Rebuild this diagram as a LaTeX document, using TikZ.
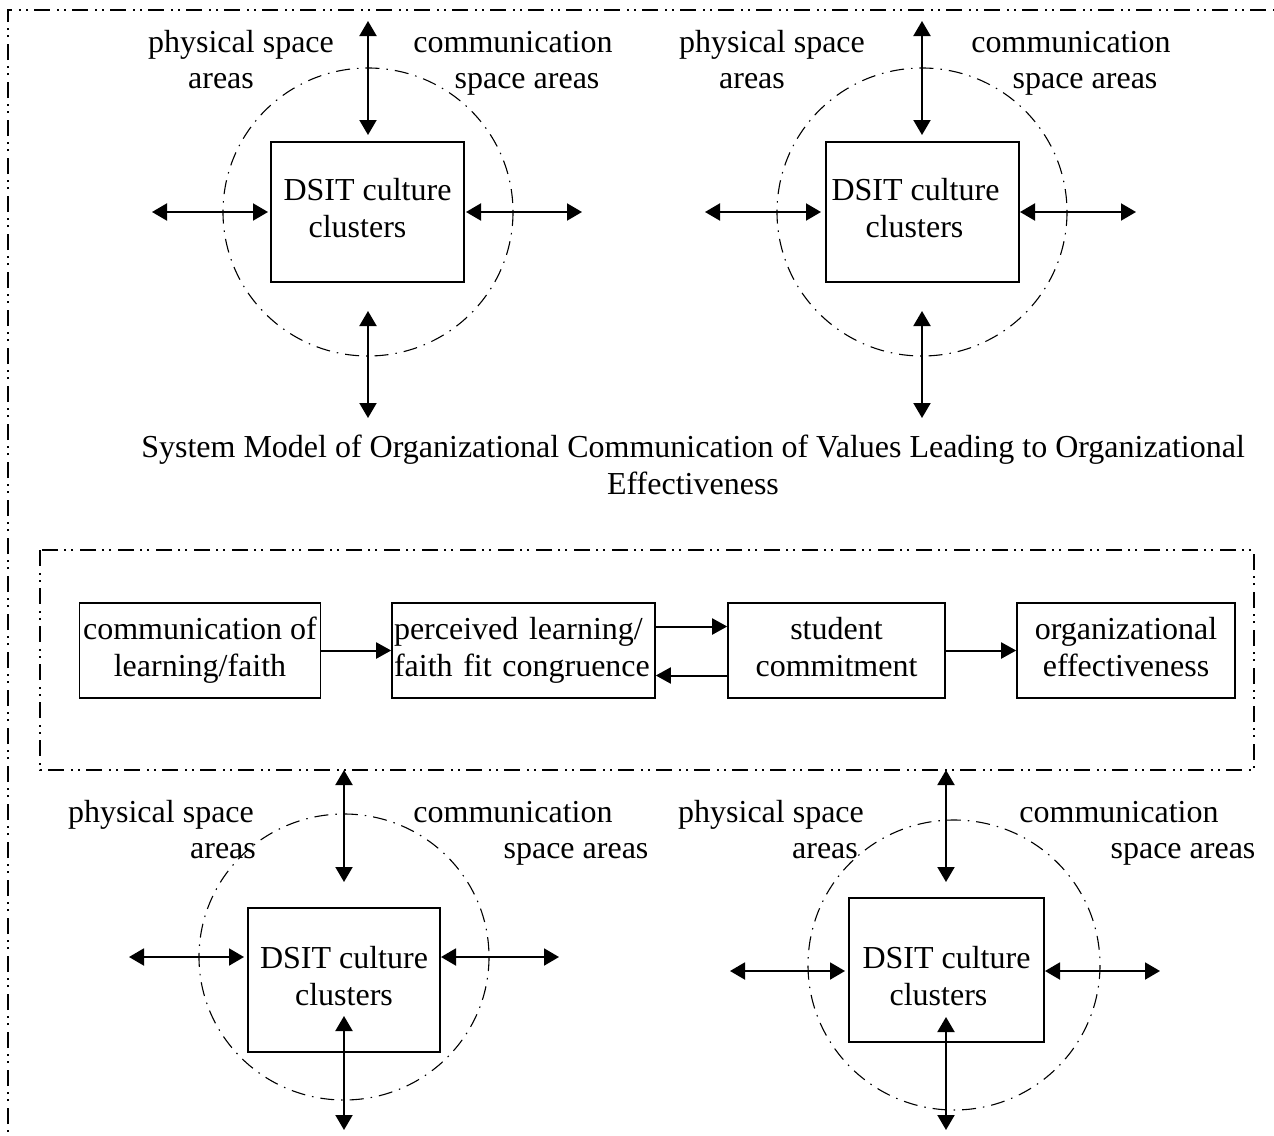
\documentclass[tikz,border=0pt]{standalone}
\usepackage{fontspec}
\setmainfont{Liberation Serif}
\usetikzlibrary{arrows.meta}
\tikzset{
  txt/.style={font=\fontsize{32}{37}\selectfont, inner sep=0pt},
  lbl/.style={txt, anchor=base},
  boxnode/.style={draw, line width=1.6pt, txt, align=center},
  dbl/.style={line width=2pt, {Triangle[length=15pt,width=17pt]}-{Triangle[length=15pt,width=17pt]}},
  one/.style={line width=2pt, -{Triangle[length=15pt,width=16pt]}},
  circ/.style={line width=1.1pt, dash pattern=on 14pt off 7pt on 1.5pt off 7pt},
  frame/.style={line width=1.5pt, dash pattern=on 16pt off 7pt on 2pt off 5pt on 2pt off 6pt}
}
\begin{document}
\begin{tikzpicture}[x=1pt,y=-1pt]
\useasboundingbox (0,0) rectangle (1274,1135);
\clip (0,0) rectangle (1274,1135);

% outer frame (runs off the page right and bottom)
\draw[frame] (8,1200) -- (8,10) -- (1320,10);

% ---------- top-left cluster ----------
\draw[circ] (368,212) ellipse [x radius=145, y radius=144];
\node[boxnode, minimum width=193pt, minimum height=140pt] (tl) at (367.5,212) {\strut DSIT culture\\\strut clusters\hspace*{20pt}};
\node[lbl] (tlp1) at (241,52) {physical space};
\node[lbl] (tlp2) at (221,88) {areas};
\node[lbl] (tlc1) at (513,52) {communication};
\node[lbl] (tlc2) at (527,88) {space areas};
\coordinate (tlN1) at (368,21);  \coordinate (tlN2) at (368,135);
\coordinate (tlS1) at (368,311); \coordinate (tlS2) at (368,418);
\coordinate (tlW1) at (152,212); \coordinate (tlW2) at (268,212);
\coordinate (tlE1) at (466,212); \coordinate (tlE2) at (582,212);
\draw[dbl] (tlN1) -- (tlN2);
\draw[dbl] (tlS1) -- (tlS2);
\draw[dbl] (tlW1) -- (tlW2);
\draw[dbl] (tlE1) -- (tlE2);

% ---------- top-right cluster ----------
\draw[circ] (922,212) ellipse [x radius=145, y radius=144];
\node[boxnode, minimum width=193pt, minimum height=140pt] (tr) at (922.5,212) {\strut DSIT culture\hspace*{14pt}\\\strut clusters\hspace*{16pt}};
\node[lbl] (trp1) at (772,52) {physical space};
\node[lbl] (trp2) at (752,88) {areas};
\node[lbl] (trc1) at (1071,52) {communication};
\node[lbl] (trc2) at (1085,88) {space areas};
\coordinate (trN1) at (922,21);  \coordinate (trN2) at (922,135);
\coordinate (trS1) at (922,311); \coordinate (trS2) at (922,418);
\coordinate (trW1) at (705,212); \coordinate (trW2) at (821,212);
\coordinate (trE1) at (1020,212); \coordinate (trE2) at (1136,212);
\draw[dbl] (trN1) -- (trN2);
\draw[dbl] (trS1) -- (trS2);
\draw[dbl] (trW1) -- (trW2);
\draw[dbl] (trE1) -- (trE2);

% ---------- title ----------
\node[lbl] (title1) at (693,457) {System Model of Organizational Communication of Values Leading to Organizational};
\node[lbl] (title2) at (693,494) {Effectiveness};

% ---------- middle frame and chain ----------
\draw[frame] (40,550) rectangle (1254,770);
\node[boxnode, minimum width=241pt, minimum height=95pt] (m1) at (200,650.5) {\strut communication of\\\strut learning/faith};
\node[draw, line width=1.6pt, txt, align=left, inner xsep=2pt, text width=259pt, minimum height=95pt] (m2) at (523.5,650.5) {\strut perceived learning/\\\strut faith fit congruence};
\node[boxnode, minimum width=217pt, minimum height=95pt] (m3) at (836.5,650.5) {\strut student\\\strut commitment};
\node[boxnode, minimum width=218pt, minimum height=95pt] (m4) at (1126,650.5) {\strut organizational\\\strut effectiveness};
\draw[one] (m1.east) -- (m2.west);
\draw[one] ([yshift=24pt]m2.east) -- ([yshift=24pt]m3.west);
\draw[one] ([yshift=-25pt]m3.west) -- ([yshift=-25pt]m2.east);
\draw[one] (m3.east) -- (m4.west);

% ---------- bottom-left cluster ----------
\draw[circ] (344,957) ellipse [x radius=145, y radius=143];
\node[boxnode, minimum width=192pt, minimum height=144pt] (bl) at (344,980) {\strut DSIT culture\\\strut clusters};
\node[lbl] (blp1) at (161,822) {physical space};
\node[lbl] (blp2) at (223,858) {areas};
\node[lbl] (blc1) at (513,822) {communication};
\node[lbl] (blc2) at (576,858) {space areas};
\coordinate (blN1) at (344,770);  \coordinate (blN2) at (344,882);
\coordinate (blS1) at (344,1016); \coordinate (blS2) at (344,1130);
\coordinate (blW1) at (129,957);  \coordinate (blW2) at (244,957);
\coordinate (blE1) at (441,957);  \coordinate (blE2) at (559,957);
\draw[dbl] (blN1) -- (blN2);
\draw[dbl] (blS1) -- (blS2);
\draw[dbl] (blW1) -- (blW2);
\draw[dbl] (blE1) -- (blE2);

% ---------- bottom-right cluster ----------
\draw[circ] (954,965) ellipse [x radius=146, y radius=145];
\node[boxnode, minimum width=195pt, minimum height=144pt] (br) at (946.5,970) {\rule{0pt}{46pt}DSIT culture\\\strut clusters\hspace*{16pt}};
\node[lbl] (brp1) at (771,822) {physical space};
\node[lbl] (brp2) at (825,858) {areas};
\node[lbl] (brc1) at (1119,822) {communication};
\node[lbl] (brc2) at (1183,858) {space areas};
\coordinate (brN1) at (946,770);  \coordinate (brN2) at (946,882);
\coordinate (brS1) at (946,1017); \coordinate (brS2) at (946,1130);
\coordinate (brW1) at (730,971);  \coordinate (brW2) at (845,971);
\coordinate (brE1) at (1045,971); \coordinate (brE2) at (1160,971);
\draw[dbl] (brN1) -- (brN2);
\draw[dbl] (brS1) -- (brS2);
\draw[dbl] (brW1) -- (brW2);
\draw[dbl] (brE1) -- (brE2);
\end{tikzpicture}
\end{document}
